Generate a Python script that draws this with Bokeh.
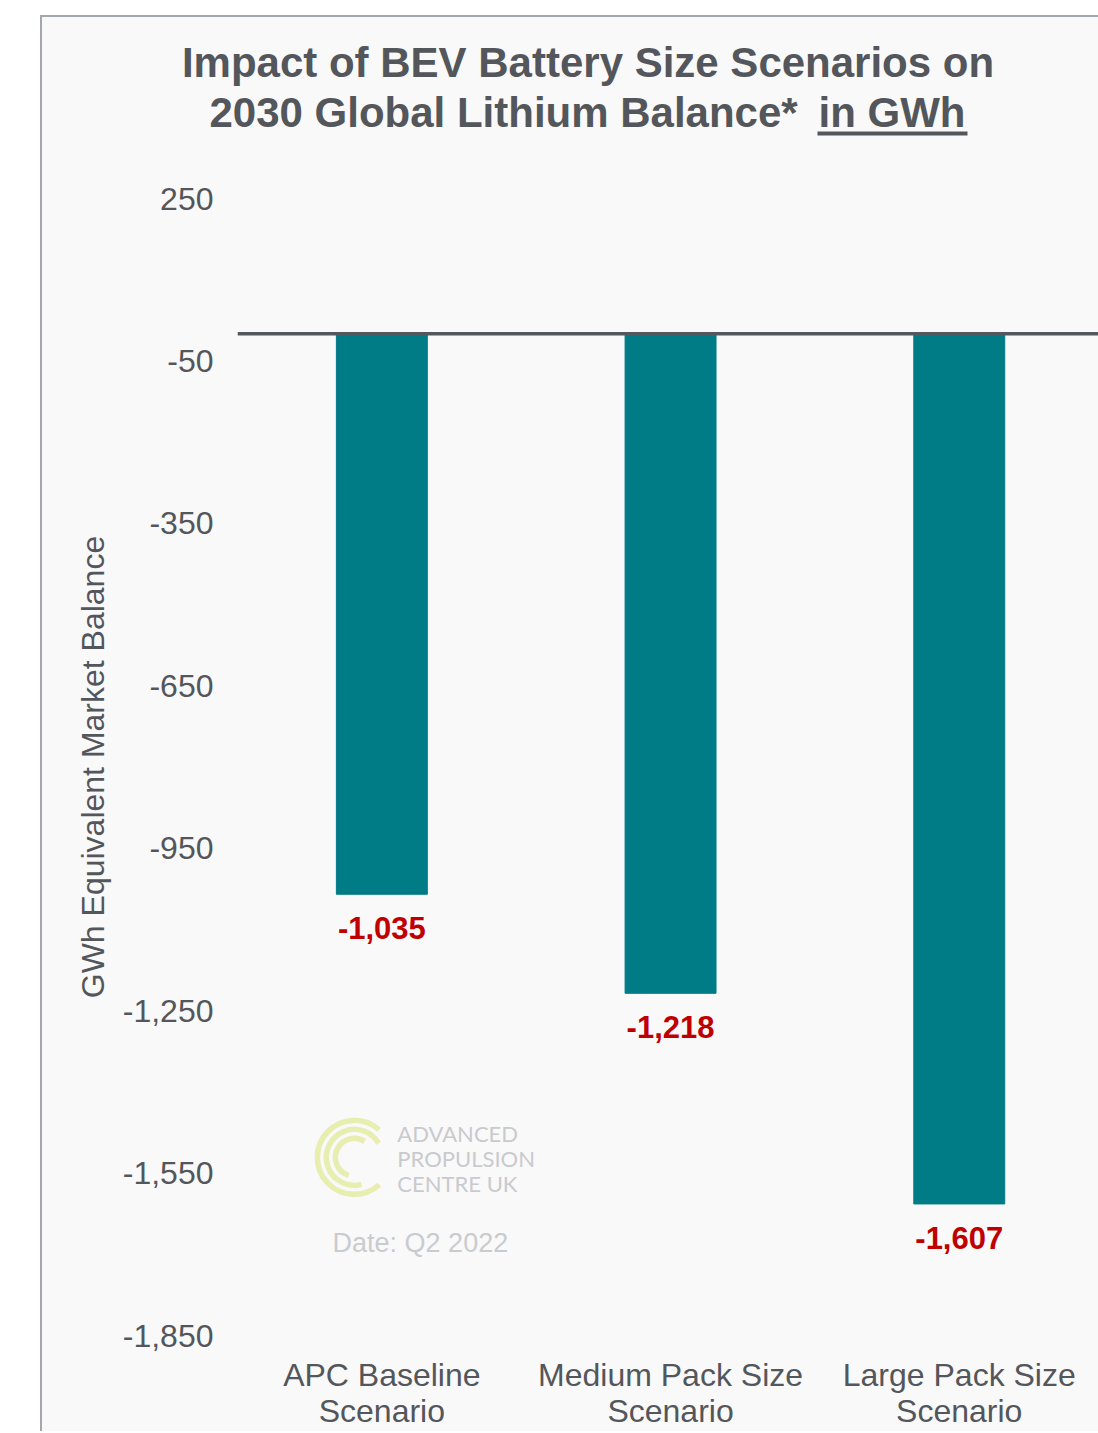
from bokeh.plotting import figure
from bokeh.layouts import column
from bokeh.models import (Range1d, FixedTicker, NumeralTickFormatter, Span, Label,
                          ColumnDataSource)
from bokeh.embed import file_html
from bokeh.resources import INLINE
from bokeh.core.properties import value

# ---- data -------------------------------------------------------------
categories = ["APC Baseline\nScenario", "Medium Pack Size\nScenario", "Large Pack Size\nScenario"]
balance_gwh = [-1035, -1218, -1607]
y_ticks = [250, -50, -350, -650, -950, -1250, -1550, -1850]

title_line1 = "Impact of BEV Battery Size Scenarios on"
title_line2 = "2030 Global Lithium Balance*"
title_unit = "in GWh"
y_label = "GWh Equivalent Market Balance"
logo_text = "ADVANCED\nPROPULSION\nCENTRE UK"
date_text = "Date: Q2 2022"

# ---- styles -----------------------------------------------------------
FONT = "Liberation Sans"
TXT = "#53565b"
BAR = "#007c86"
RED = "#c00000"
BG = "#f9f9f9"
W = 1056
TITLE_H = 151
CHART_H = 1263

# ---- title block (page-pixel coordinate space) ------------------------
tf = figure(width=W, height=TITLE_H, output_backend="svg", toolbar_location=None,
            x_range=Range1d(42, 42 + W), y_range=Range1d(17 + TITLE_H, 17),
            x_axis_type=None, y_axis_type=None, min_border=0,
            background_fill_color=BG, border_fill_color=BG)
tf.frame_align = False
tf.outline_line_color = None
tf.grid.grid_line_color = None
title_style = dict(text_font=value(FONT), text_font_style="bold",
                   text_font_size="42px", text_color=TXT, text_baseline="middle")
tf.text(x=[587.5], y=[62], text=[title_line1], text_align="center", **title_style)
tf.text(x=[209], y=[111.5], text=[title_line2], text_align="left", **title_style)
tf.text(x=[818], y=[111.5], text=[title_unit], text_align="left", **title_style)
tf.quad(left=[817], right=[967], top=[131], bottom=[135], fill_color=TXT, line_color=None)

# ---- chart ------------------------------------------------------------
xs = list(range(len(categories)))
src = ColumnDataSource(dict(
    x=xs,
    top=[0] * len(balance_gwh),
    bottom=balance_gwh,
    label=[f"{v:,}" for v in balance_gwh],
))

p = figure(width=W, height=CHART_H, output_backend="svg", toolbar_location=None,
           x_range=Range1d(-0.5, 2.4823), y_range=Range1d(y_ticks[-1], y_ticks[0]),
           min_border_left=195, min_border_right=0, min_border_top=30, min_border_bottom=96,
           background_fill_color=BG, border_fill_color=BG)
p.frame_align = False
p.outline_line_color = None
p.grid.grid_line_color = None

# bars
p.vbar(x="x", top="top", bottom="bottom", width=0.315, source=src,
       fill_color=BAR, line_color=BAR, line_width=1)

# zero line
p.add_layout(Span(location=0, dimension="width", line_color="#54585e", line_width=3.5))

# data labels
p.text(x="x", y="bottom", text="label", source=src, y_offset=34,
       text_align="center", text_baseline="middle",
       text_font=value(FONT), text_font_style="bold", text_font_size="31px",
       text_color=RED)

# axes
p.xaxis.ticker = FixedTicker(ticks=xs)
p.xaxis.major_label_overrides = {i: c for i, c in zip(xs, categories)}
p.yaxis.ticker = FixedTicker(ticks=y_ticks)
p.yaxis.formatter = NumeralTickFormatter(format="0,0")
for ax in (p.xaxis, p.yaxis):
    ax.axis_line_color = None
    ax.major_tick_line_color = None
    ax.minor_tick_line_color = None
    ax.major_label_text_font = FONT
    ax.major_label_text_font_size = "32px"
    ax.major_label_text_color = TXT
p.xaxis.major_label_standoff = 15
p.xaxis.major_label_text_line_height = 1.01
p.yaxis.major_label_standoff = 18
p.yaxis.axis_label = y_label
p.yaxis.axis_label_text_font = FONT
p.yaxis.axis_label_text_font_size = "32px"
p.yaxis.axis_label_text_font_style = "normal"
p.yaxis.axis_label_text_color = TXT
p.yaxis.axis_label_standoff = 9

# watermark
p.arc(x=[-0.0953] * 3, y=[-1521] * 3, radius=[37, 28, 19],
      radius_units="screen", start_angle=[0.84, 0.52, 1.0], end_angle=[5.45, 4.97, 4.4],
      line_color="#e8edb0", line_width=5.5)
p.add_layout(Label(x=0.0537, y=-1523, text=logo_text, text_align="left",
                   text_baseline="middle", text_font="Lato", text_font_size="22px",
                   text_color="#c9cacd", text_line_height=0.92))
p.add_layout(Label(x=0.1334, y=-1680, text=date_text, text_align="center",
                   text_baseline="middle", text_font=FONT, text_font_size="27px",
                   text_color="#c9cbce"))

layout = column(tf, p, spacing=0,
                styles={"margin-left": "40px", "margin-top": "15px",
                        "border-left": "2px solid #a4a8ad", "border-top": "2px solid #a4a8ad",
                        "background-color": BG})

open("out.html", "w").write(file_html(layout, INLINE))
